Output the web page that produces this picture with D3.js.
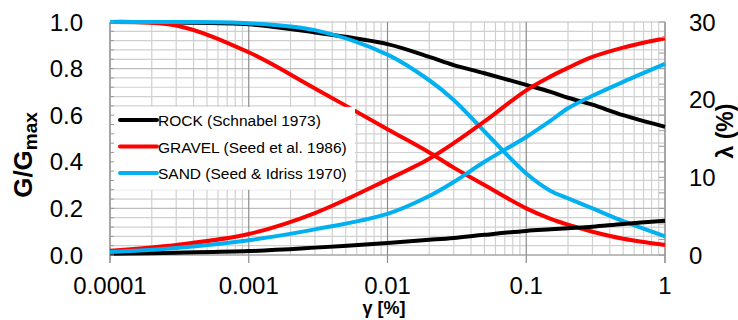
<!DOCTYPE html>
<html>
<head>
<meta charset="utf-8">
<script src="https://cdn.jsdelivr.net/npm/d3@7"></script>
<style>
  body { margin: 0; background: #fff; }
  text { font-family: "Liberation Sans", Arial, sans-serif; }
</style>
</head>
<body>
<div id="chart-area"></div>
<script>
// shear strain values (%)
var strain = [0.0001, 0.0003, 0.001, 0.003, 0.01, 0.02, 0.03, 0.05, 0.1, 0.15, 0.2, 0.3, 0.5, 1];

// modulus reduction G/Gmax
var rockG   = [1.0, 0.998, 0.99, 0.955, 0.905, 0.85, 0.815, 0.78, 0.73, 0.70, 0.675, 0.645, 0.60, 0.55];
var gravelG = [1.0, 0.985, 0.87, 0.715, 0.54, 0.44, 0.375, 0.30, 0.20, 0.155, 0.13, 0.10, 0.07, 0.043];
var sandG   = [1.0, 1.0, 0.995, 0.965, 0.86, 0.75, 0.665, 0.53, 0.35, 0.275, 0.243, 0.20, 0.145, 0.08];

// damping ratio (%)
var rockD   = [0.15, 0.3, 0.5, 0.95, 1.55, 1.95, 2.2, 2.6, 3.1, 3.3, 3.45, 3.65, 4.0, 4.4];
var gravelD = [0.55, 1.3, 2.7, 5.4, 9.7, 12.4, 14.4, 17.2, 21.2, 23.0, 24.1, 25.5, 26.7, 27.9];
var sandD   = [0.4, 0.9, 1.9, 3.3, 5.3, 7.6, 9.4, 12.0, 15.2, 17.3, 18.9, 20.5, 22.3, 24.6];

var seriesNames = ["ROCK (Schnabel 1973)", "GRAVEL (Seed et al. 1986)", "SAND (Seed & Idriss 1970)"];
var seriesColors = ["#000000", "#ff0000", "#00b0f0"];

var xTicks = [0.0001, 0.001, 0.01, 0.1, 1];
var xTickLabels = ["0.0001", "0.001", "0.01", "0.1", "1"];
var yTicks = [0, 0.2, 0.4, 0.6, 0.8, 1.0];
var y2Ticks = [0, 10, 20, 30];

var W = 738, H = 320;
var margin = { top: 22, bottom: 65, left: 110, right: 73 };
var width = W - margin.left - margin.right;
var height = H - margin.top - margin.bottom;

var svg = d3.select("#chart-area").append("svg")
    .attr("width", W)
    .attr("height", H);

var g = svg.append("g")
    .attr("transform", "translate(" + margin.left + " " + margin.top + ")");

var x = d3.scaleLog().domain([0.0001, 1]).range([0, width]);
var y = d3.scaleLinear().domain([0, 1]).range([height, 0]);
var y2 = d3.scaleLinear().domain([0, 30]).range([height, 0]);

// minor x grid
var minorX = [];
[0.0001, 0.001, 0.01, 0.1].forEach(function(dec) {
    for (var k = 2; k <= 9; k++) minorX.push(dec * k);
});
g.selectAll(".gx-minor").data(minorX).enter().append("line")
    .attr("x1", function(d) { return x(d); })
    .attr("x2", function(d) { return x(d); })
    .attr("y1", 0).attr("y2", height)
    .attr("stroke", "#d0d0d0").attr("stroke-width", 1.2);

// horizontal grid (every 0.04)
var yGrid = d3.range(0, 26).map(function(i) { return i * 0.04; });
g.selectAll(".gy").data(yGrid).enter().append("line")
    .attr("x1", 0).attr("x2", width)
    .attr("y1", function(d) { return y(d); })
    .attr("y2", function(d) { return y(d); })
    .attr("stroke", function(d, i) { return i % 5 == 0 ? "#bdbdbd" : "#d0d0d0"; })
    .attr("stroke-width", 1.2);

// decade lines
g.selectAll(".gx-major").data(xTicks).enter().append("line")
    .attr("x1", function(d) { return x(d); })
    .attr("x2", function(d) { return x(d); })
    .attr("y1", 0).attr("y2", height + 8)
    .attr("stroke", "#8c8c8c").attr("stroke-width", 1.2);

// left / right / bottom axis lines
g.append("line").attr("x1", 0).attr("x2", 0).attr("y1", 0).attr("y2", height + 8)
    .attr("stroke", "#9a9a9a").attr("stroke-width", 1.2);
g.append("line").attr("x1", width).attr("x2", width).attr("y1", 0).attr("y2", height + 8)
    .attr("stroke", "#9a9a9a").attr("stroke-width", 1.2);
g.append("line").attr("x1", 0).attr("x2", width).attr("y1", height).attr("y2", height)
    .attr("stroke", "#9a9a9a").attr("stroke-width", 1.2);

var line = function(vals, scale) {
    return d3.line()
        .x(function(d, i) { return x(strain[i]); })
        .y(function(d) { return scale(d); })
        .curve(d3.curveCatmullRom.alpha(0.5))(vals);
};

// G/Gmax curves
[rockG, gravelG, sandG].forEach(function(vals, i) {
    g.append("path")
        .attr("d", line(vals, y))
        .attr("fill", "none")
        .attr("stroke", seriesColors[i])
        .attr("stroke-width", 4);
});

// legend
var legend = g.append("g");
legend.append("rect")
    .attr("x", 1).attr("y", y(0.64) + 1)
    .attr("width", 244).attr("height", y(0.28) - y(0.64) - 1)
    .attr("fill", "#fff");
seriesNames.forEach(function(name, i) {
    var ly = 98 + i * 26.5;
    legend.append("line")
        .attr("x1", 10).attr("x2", 47)
        .attr("y1", ly).attr("y2", ly)
        .attr("stroke", seriesColors[i]).attr("stroke-width", 4)
        .attr("stroke-linecap", "round");
    legend.append("text")
        .attr("x", 48).attr("y", ly + 6)
        .attr("font-size", "15.5px")
        .text(name);
});

// damping curves (right axis)
[rockD, gravelD, sandD].forEach(function(vals, i) {
    g.append("path")
        .attr("d", line(vals, y2))
        .attr("fill", "none")
        .attr("stroke", seriesColors[i])
        .attr("stroke-width", 4);
});

// minor ticks, inward
var leftMinor = d3.range(0, 26).map(function(i) { return i * 0.04; });
g.selectAll(".lt").data(leftMinor).enter().append("line")
    .attr("x1", 0).attr("x2", 4)
    .attr("y1", function(d) { return y(d); })
    .attr("y2", function(d) { return y(d); })
    .attr("stroke", "#9a9a9a");
var rightMinor = d3.range(0, 16).map(function(i) { return i * 2; });
g.selectAll(".rt").data(rightMinor).enter().append("line")
    .attr("x1", width - 6).attr("x2", width)
    .attr("y1", function(d) { return y2(d); })
    .attr("y2", function(d) { return y2(d); })
    .attr("stroke", "#9a9a9a");

// tick labels
g.selectAll(".yl").data(yTicks).enter().append("text")
    .attr("x", -27).attr("y", function(d) { return y(d); })
    .attr("dy", "0.36em")
    .attr("text-anchor", "end")
    .attr("font-size", "24px")
    .text(function(d) { return d3.format(".1f")(d); });

g.selectAll(".y2l").data(y2Ticks).enter().append("text")
    .attr("x", width + 24).attr("y", function(d) { return y2(d); })
    .attr("dy", "0.36em")
    .attr("text-anchor", "start")
    .attr("font-size", "24px")
    .text(function(d) { return d; });

g.selectAll(".xl").data(xTicks).enter().append("text")
    .attr("x", function(d) { return x(d); })
    .attr("y", height + 39)
    .attr("text-anchor", "middle")
    .attr("font-size", "24px")
    .text(function(d, i) { return xTickLabels[i]; });

// axis titles
var yTitle = svg.append("text")
    .attr("transform", "translate(32 " + 155 + ") rotate(-90)")
    .attr("text-anchor", "middle")
    .attr("font-size", "26px")
    .attr("font-weight", "bold");
yTitle.append("tspan").text("G/G");
yTitle.append("tspan").attr("font-size", "19px").attr("dy", "5").text("max");

svg.append("text")
    .attr("transform", "translate(733 " + 131 + ") rotate(-90)")
    .attr("text-anchor", "middle")
    .attr("font-size", "23px")
    .attr("font-weight", "bold")
    .text("λ (%)");

svg.append("text")
    .attr("x", 384).attr("y", 314)
    .attr("text-anchor", "middle")
    .attr("font-size", "18px")
    .attr("font-weight", "bold")
    .text("γ [%]");
</script>
</body>
</html>
